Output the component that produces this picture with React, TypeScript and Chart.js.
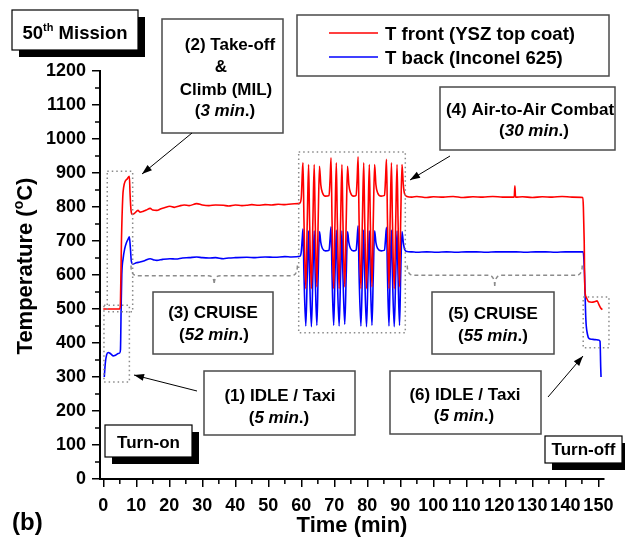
import React, { useEffect, useRef } from "react";
import { Chart, registerables } from "chart.js";
Chart.register(...registerables);

const FONT = '"Liberation Sans", Arial, Helvetica, sans-serif';

// ---------------- data (time in min, temperature in °C) ----------------
const frontIdle: number[][] = [[0, 500], [2.5, 500], [5.0, 500]];
const frontClimb: number[][] = [[5.2, 520], [5.5, 700], [5.9, 830], [6.2, 860], [6.6, 875], [7.2, 882], [7.9, 890], [8.1, 840], [8.4, 790], [8.8, 778]];
const frontCruise1: number[][] = [[9.5, 782], [10.5, 790], [11.1, 785], [12.0, 787], [13.0, 791], [14.2, 796], [15.0, 791], [16.2, 790], [17.5, 795], [18.5, 798], [20.2, 802], [21.5, 799], [23.0, 803], [24.5, 806], [26.0, 804], [28.3, 810], [30.0, 806], [32.0, 804], [34.0, 806], [36.4, 805], [38.0, 803], [40.0, 806], [42.0, 804], [43.5, 805], [45.0, 807], [47.0, 805], [49.0, 807], [51.0, 806], [53.0, 808], [55.0, 807], [57.0, 809], [59.0, 810], [59.6, 812]];
const frontCombat: number[][] = [[60.0, 830], [60.3, 900], [60.5, 930], [60.8, 760], [61.35, 560], [61.8, 760], [62.2, 925], [62.5, 760], [63.05, 560], [63.5, 760], [63.9, 925], [64.2, 760], [64.7, 565], [65.1, 760], [65.5, 920], [65.9, 865], [66.4, 842], [67.3, 832], [68.4, 834], [68.7, 880], [69.0, 945], [69.3, 760], [69.8, 560], [70.2, 760], [70.6, 930], [70.9, 760], [71.45, 560], [71.9, 760], [72.3, 925], [72.6, 760], [73.15, 565], [73.6, 760], [74.0, 920], [74.4, 865], [74.9, 842], [75.8, 832], [76.6, 834], [76.9, 880], [77.2, 948], [77.5, 760], [78.05, 560], [78.5, 760], [78.9, 930], [79.2, 760], [79.75, 560], [80.2, 760], [80.6, 925], [80.9, 760], [81.4, 565], [81.8, 760], [82.2, 925], [82.6, 865], [83.1, 842], [84.2, 832], [85.2, 834], [85.5, 880], [85.8, 940], [86.1, 760], [86.55, 560], [86.9, 760], [87.3, 930], [87.6, 760], [88.15, 560], [88.6, 760], [89.0, 925], [89.3, 760], [89.75, 565], [90.1, 760], [90.5, 925], [90.9, 865], [91.3, 838], [92.0, 831]];
const frontCruise2: number[][] = [[93.5, 829], [95, 831], [98, 828], [100, 830], [103, 829], [106, 831], [109, 828], [112, 830], [115, 829], [118, 831], [121, 829], [124.5, 829], [124.7, 862], [124.9, 829], [127, 830], [130, 828], [133, 830], [136, 829], [139, 831], [142, 829], [145.3, 828]];
const frontShutdown: number[][] = [[145.45, 800], [145.7, 700], [145.9, 560], [146.3, 535], [147.1, 521], [148, 520], [149, 522], [149.6, 524], [150.2, 512], [150.7, 503], [151.2, 498]];

const backIdle: number[][] = [[0.3, 300], [0.6, 340], [1.0, 365], [1.5, 372], [2.0, 370], [2.5, 366], [3.0, 362], [3.5, 363], [4.0, 366], [4.5, 369], [5.0, 371]];
const backClimb: number[][] = [[5.2, 380], [5.4, 500], [5.6, 600], [6.0, 648], [6.5, 678], [7.0, 695], [7.5, 705], [7.9, 712], [8.2, 680], [8.5, 640], [9.0, 632]];
const backCruise1: number[][] = [[10.0, 636], [11.1, 638], [12.5, 642], [14.2, 648], [15.5, 644], [16.2, 643], [18.0, 646], [20.2, 648], [22.0, 647], [24.0, 650], [26.0, 651], [28.3, 653], [30.0, 651], [32.0, 650], [34.0, 651], [36.4, 648], [38.0, 650], [40.0, 651], [43.5, 652], [46.0, 651], [49.0, 653], [52.0, 652], [55.0, 654], [57.0, 653], [59.6, 655]];
const backCombat: number[][] = [[60.0, 670], [60.3, 710], [60.5, 735], [60.8, 600], [61.35, 450], [61.8, 600], [62.2, 730], [62.5, 600], [63.05, 448], [63.5, 600], [63.9, 730], [64.2, 600], [64.7, 452], [65.1, 600], [65.5, 728], [65.9, 695], [66.4, 678], [67.3, 671], [68.4, 673], [68.7, 705], [69.0, 742], [69.3, 600], [69.8, 452], [70.2, 600], [70.6, 732], [70.9, 600], [71.45, 450], [71.9, 600], [72.3, 730], [72.6, 600], [73.15, 455], [73.6, 600], [74.0, 728], [74.4, 695], [74.9, 678], [75.8, 671], [76.6, 673], [76.9, 705], [77.2, 745], [77.5, 600], [78.05, 450], [78.5, 600], [78.9, 732], [79.2, 600], [79.75, 448], [80.2, 600], [80.6, 730], [80.9, 600], [81.4, 452], [81.8, 600], [82.2, 730], [82.6, 695], [83.1, 678], [84.2, 671], [85.2, 673], [85.5, 705], [85.8, 740], [86.1, 600], [86.55, 450], [86.9, 600], [87.3, 732], [87.6, 600], [88.15, 448], [88.6, 600], [89.0, 730], [89.3, 600], [89.75, 452], [90.1, 600], [90.5, 728], [90.9, 695], [91.3, 675], [92.0, 669]];
const backCruise2: number[][] = [[93.5, 668], [95, 667], [98, 668], [101, 667], [104, 668], [107, 667], [110, 668], [113, 668], [116, 667], [119, 668], [122, 668], [125, 668], [128, 667], [131, 668], [134, 668], [137, 667], [140, 668], [143, 668], [145.4, 668]];
const backShutdown: number[][] = [[145.8, 600], [146.2, 470], [146.7, 425], [147.2, 413], [148, 411], [149, 410], [150.0, 409], [150.5, 405], [150.7, 330], [150.8, 300]];

const xTicks = [0, 10, 20, 30, 40, 50, 60, 70, 80, 90, 100, 110, 120, 130, 140, 150];
const xMinor = [5, 15, 25, 35, 45, 55, 65, 75, 85, 95, 105, 115, 125, 135, 145];
const yTicks = [0, 100, 200, 300, 400, 500, 600, 700, 800, 900, 1000, 1100, 1200];
const yMinor = [50, 150, 250, 350, 450, 550, 650, 750, 850, 950, 1050, 1150];

const seriesNames = ["T front (YSZ top coat)", "T back (Inconel 625)"];

// dotted phase boxes [t0, t1, Tlow, Thigh]
const phaseBoxes: number[][] = [[1.2, 8.9, 492, 905], [0.2, 7.9, 285, 511], [59.2, 91.5, 430, 962], [145.4, 153.2, 386, 535]];
// cruise braces [t0, t1, Tend, Tbar, Tstem]
const braces: number[][] = [[8.4, 58.8, 628, 598, 572], [92.1, 145.1, 628, 599, 564]];

type Seg = { t: string; i?: boolean; sup?: boolean };

function rich(ctx: CanvasRenderingContext2D, segs: Seg[], cx: number, by: number, size: number) {
  const fontOf = (s: Seg) => `${s.i ? "italic " : ""}bold ${s.sup ? Math.round(size * 0.62) : size}px ${FONT}`;
  let total = 0;
  const widths = segs.map((s) => {
    ctx.font = fontOf(s);
    const w = ctx.measureText(s.t).width;
    total += w;
    return w;
  });
  let x = cx - total / 2;
  ctx.textAlign = "left";
  ctx.textBaseline = "alphabetic";
  segs.forEach((s, k) => {
    ctx.font = fontOf(s);
    ctx.fillText(s.t, x, by - (s.sup ? size * 0.42 : 0));
    x += widths[k];
  });
}

function arrow(ctx: CanvasRenderingContext2D, x0: number, y0: number, x1: number, y1: number) {
  ctx.strokeStyle = "#000";
  ctx.fillStyle = "#000";
  ctx.lineWidth = 1;
  ctx.beginPath();
  ctx.moveTo(x0, y0);
  ctx.lineTo(x1, y1);
  ctx.stroke();
  const a = Math.atan2(y1 - y0, x1 - x0);
  const L = 10, W = 3.5;
  ctx.beginPath();
  ctx.moveTo(x1, y1);
  ctx.lineTo(x1 - L * Math.cos(a) + W * Math.sin(a), y1 - L * Math.sin(a) - W * Math.cos(a));
  ctx.lineTo(x1 - L * Math.cos(a) - W * Math.sin(a), y1 - L * Math.sin(a) + W * Math.cos(a));
  ctx.closePath();
  ctx.fill();
}

function textBox(ctx: CanvasRenderingContext2D, x: number, y: number, w: number, h: number) {
  ctx.fillStyle = "#fff";
  ctx.fillRect(x, y, w, h);
  ctx.strokeStyle = "#4a4a4a";
  ctx.lineWidth = 1.5;
  ctx.strokeRect(x, y, w, h);
}

function shadowBox(ctx: CanvasRenderingContext2D, x: number, y: number, w: number, h: number) {
  ctx.fillStyle = "#000";
  ctx.fillRect(x + 7, y + 7, w, h);
  ctx.fillStyle = "#fff";
  ctx.fillRect(x, y, w, h);
  ctx.strokeStyle = "#000";
  ctx.lineWidth = 1.2;
  ctx.strokeRect(x, y, w, h);
}

function brace(ctx: CanvasRenderingContext2D, x0: number, x1: number, yEnd: number, yBar: number, yStem: number) {
  const xc = (x0 + x1) / 2;
  const r = 6;
  ctx.beginPath();
  ctx.moveTo(x0, yEnd);
  ctx.quadraticCurveTo(x0, yBar, x0 + r, yBar);
  ctx.lineTo(xc - 6, yBar);
  ctx.quadraticCurveTo(xc, yBar, xc, yStem);
  ctx.moveTo(x1, yEnd);
  ctx.quadraticCurveTo(x1, yBar, x1 - r, yBar);
  ctx.lineTo(xc + 6, yBar);
  ctx.quadraticCurveTo(xc, yBar, xc, yStem);
  ctx.stroke();
}

const annotPlugin = {
  id: "annot",
  afterDraw(chart: any) {
    const ctx: CanvasRenderingContext2D = chart.ctx;
    const X = (t: number) => chart.scales.x.getPixelForValue(t);
    const Y = (v: number) => chart.scales.y.getPixelForValue(v);
    const { left, bottom, right } = chart.chartArea;
    ctx.save();
    // minor ticks
    ctx.strokeStyle = "#000";
    ctx.lineWidth = 1.5;
    xMinor.forEach((m) => {
      const x = X(m);
      ctx.beginPath();
      ctx.moveTo(x, bottom);
      ctx.lineTo(x, bottom + 5);
      ctx.stroke();
    });
    yMinor.forEach((m) => {
      const y = Y(m);
      ctx.beginPath();
      ctx.moveTo(left - 5, y);
      ctx.lineTo(left, y);
      ctx.stroke();
    });

    // dotted phase boxes
    ctx.setLineDash([1.5, 3]);
    ctx.strokeStyle = "#8a8a8a";
    ctx.lineWidth = 1.5;
    phaseBoxes.forEach(([t0, t1, v0, v1]) => {
      ctx.strokeRect(X(t0), Y(v1), X(t1) - X(t0), Y(v0) - Y(v1));
    });
    // braces
    ctx.setLineDash([4, 3]);
    ctx.strokeStyle = "#8c8c8c";
    braces.forEach(([t0, t1, ve, vb, vs]) => brace(ctx, X(t0), X(t1), Y(ve), Y(vb), Y(vs)));
    ctx.setLineDash([]);

    ctx.fillStyle = "#000";
    // axis titles
    rich(ctx, [{ t: "Time (min)" }], (left + right) / 2, 532, 22);
    ctx.save();
    ctx.translate(32, 266);
    ctx.rotate(-Math.PI / 2);
    ctx.fillStyle = "#000";
    rich(ctx, [{ t: "Temperature (" }, { t: "o", sup: true }, { t: "C)" }], 0, 0, 22);
    ctx.restore();

    // legend
    textBox(ctx, 297, 15, 312, 61);
    ctx.lineWidth = 1.6;
    ctx.strokeStyle = "#ff0000";
    ctx.beginPath(); ctx.moveTo(329, 33); ctx.lineTo(378, 33); ctx.stroke();
    ctx.strokeStyle = "#0000ff";
    ctx.beginPath(); ctx.moveTo(329, 57); ctx.lineTo(378, 57); ctx.stroke();
    ctx.fillStyle = "#000";
    ctx.font = `bold 18.6px ${FONT}`;
    ctx.textAlign = "left";
    ctx.textBaseline = "alphabetic";
    ctx.fillText(seriesNames[0], 385, 40);
    ctx.fillText(seriesNames[1], 385, 63.5);

    // 50th Mission
    shadowBox(ctx, 12, 10, 126, 40);
    ctx.fillStyle = "#000";
    rich(ctx, [{ t: "50" }, { t: "th", sup: true }, { t: " Mission" }], 75, 38.5, 18.5);

    // (2) Take-off
    textBox(ctx, 162, 19, 121, 114);
    ctx.fillStyle = "#000";
    rich(ctx, [{ t: "(2) Take-off" }], 230, 49.5, 17);
    rich(ctx, [{ t: "&" }], 221, 72, 17);
    rich(ctx, [{ t: "Climb (MIL)" }], 226, 94.5, 17);
    rich(ctx, [{ t: "(" }, { t: "3 min", i: true }, { t: ".)" }], 225, 116, 17);
    arrow(ctx, 192, 133, 142, 174);

    // (4) Air-to-Air Combat
    textBox(ctx, 440, 87, 175, 63);
    ctx.fillStyle = "#000";
    rich(ctx, [{ t: "(4) Air-to-Air Combat" }], 530, 114.5, 17);
    rich(ctx, [{ t: "(" }, { t: "30 min", i: true }, { t: ".)" }], 534, 136, 17);
    arrow(ctx, 450, 156, 410, 180);

    // (3) CRUISE
    textBox(ctx, 153, 292, 120, 62);
    ctx.fillStyle = "#000";
    rich(ctx, [{ t: "(3) CRUISE" }], 213, 318, 17);
    rich(ctx, [{ t: "(" }, { t: "52 min", i: true }, { t: ".)" }], 214, 339.5, 17);

    // (5) CRUISE
    textBox(ctx, 432, 292, 122, 62);
    ctx.fillStyle = "#000";
    rich(ctx, [{ t: "(5) CRUISE" }], 493, 319, 17);
    rich(ctx, [{ t: "(" }, { t: "55 min", i: true }, { t: ".)" }], 493, 341, 17);

    // (1) IDLE / Taxi
    textBox(ctx, 204, 371, 151, 64);
    ctx.fillStyle = "#000";
    rich(ctx, [{ t: "(1) IDLE / Taxi" }], 280, 401, 17);
    rich(ctx, [{ t: "(" }, { t: "5 min", i: true }, { t: ".)" }], 279, 423, 17);
    arrow(ctx, 197, 391, 134, 375);

    // (6) IDLE / Taxi
    textBox(ctx, 390, 371, 151, 63);
    ctx.fillStyle = "#000";
    rich(ctx, [{ t: "(6) IDLE / Taxi" }], 465, 399.5, 17);
    rich(ctx, [{ t: "(" }, { t: "5 min", i: true }, { t: ".)" }], 464, 421, 17);
    arrow(ctx, 548, 397, 583, 356);

    // Turn-on / Turn-off
    shadowBox(ctx, 105, 425, 87, 32);
    ctx.fillStyle = "#000";
    rich(ctx, [{ t: "Turn-on" }], 148.5, 448, 17);
    shadowBox(ctx, 545, 436, 77, 27);
    ctx.fillStyle = "#000";
    rich(ctx, [{ t: "Turn-off" }], 583.5, 454.5, 17);

    // (b)
    ctx.font = `bold 24px ${FONT}`;
    ctx.textAlign = "left";
    ctx.fillText("(b)", 12, 530);
    ctx.restore();
  },
};

const toXY = (parts: number[][][]) => parts.flat().map(([x, y]) => ({ x, y }));

export default function App() {
  const ref = useRef<HTMLCanvasElement>(null);
  useEffect(() => {
    const tickFont = { family: FONT, size: 18, weight: "bold" as const };
    const chart = new Chart(ref.current!, {
      type: "line",
      data: {
        datasets: [
          {
            label: seriesNames[0],
            data: toXY([frontIdle, frontClimb, frontCruise1, frontCombat, frontCruise2, frontShutdown]),
            borderColor: "#ff0000",
            borderWidth: 1.6,
            pointRadius: 0,
            fill: false,
            cubicInterpolationMode: "monotone",
          },
          {
            label: seriesNames[1],
            data: toXY([backIdle, backClimb, backCruise1, backCombat, backCruise2, backShutdown]),
            borderColor: "#0000ff",
            borderWidth: 1.6,
            pointRadius: 0,
            fill: false,
            cubicInterpolationMode: "monotone",
          },
        ],
      },
      options: {
        responsive: false,
        animation: false,
        events: [],
        layout: { padding: { top: 71, right: 21, left: 0, bottom: 0 } },
        plugins: { legend: { display: false }, tooltip: { enabled: false }, title: { display: false } },
        scales: {
          x: {
            type: "linear",
            min: -1,
            max: 151.7,
            afterFit: (s: any) => { s.height = 63; },
            afterBuildTicks: (s: any) => { s.ticks = xTicks.map((v) => ({ value: v })); },
            ticks: { font: tickFont, color: "#000", padding: 8, maxRotation: 0, autoSkip: false, callback: (v: any) => String(v) },
            grid: { display: true, drawOnChartArea: false, drawTicks: true, tickLength: 8, color: "#000", tickColor: "#000", lineWidth: 1.5 },
            border: { display: true, color: "#000", width: 2 },
          },
          y: {
            type: "linear",
            min: 0,
            max: 1200,
            afterFit: (s: any) => { s.width = 100; },
            afterBuildTicks: (s: any) => { s.ticks = yTicks.map((v) => ({ value: v })); },
            ticks: { font: tickFont, color: "#000", padding: 6, autoSkip: false, callback: (v: any) => String(v) },
            grid: { display: true, drawOnChartArea: false, drawTicks: true, tickLength: 8, color: "#000", tickColor: "#000", lineWidth: 1.5 },
            border: { display: true, color: "#000", width: 2 },
          },
        },
      },
      plugins: [annotPlugin],
    });
    return () => chart.destroy();
  }, []);
  return (
    <canvas
      ref={ref}
      width={625}
      height={542}
      style={{ position: "absolute", left: 0, top: 0, width: 625, height: 542, background: "#fff" }}
    />
  );
}
